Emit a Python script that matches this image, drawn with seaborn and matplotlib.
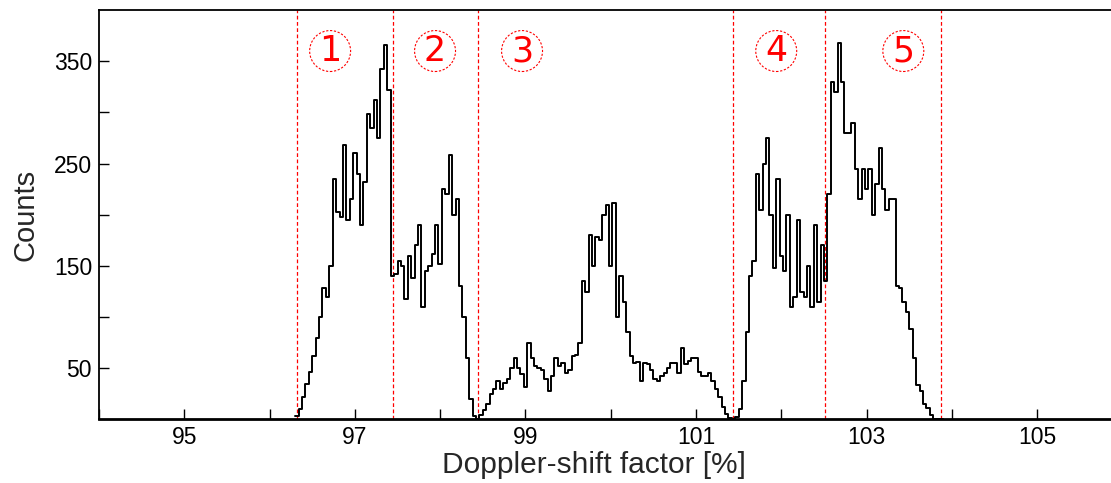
import numpy as np
import pandas as pd
import matplotlib
matplotlib.use("Agg")
import matplotlib.pyplot as plt
import seaborn as sns

# ---- data ----
bin_start = 96.30
bin_width = 0.04
seg1 = [3, 10, 22, 35, 46, 62, 80, 100, 128, 120, 150, 235, 203, 198, 268, 195, 215, 260,
        240, 190, 232, 298, 285, 312, 275, 342, 366, 322, 140]
seg2 = [142, 155, 150, 118, 160, 138, 170, 190, 110, 145, 150, 162, 190, 152, 225, 220, 258,
        200, 215, 130, 100, 60, 20, 3, 0]
seg3 = [4, 9, 15, 25, 30, 38, 30, 36, 40, 50, 60, 50, 44, 32, 75, 60, 52, 50, 48, 40,
        28, 42, 60, 52, 55, 45, 48, 62, 63, 75, 135, 125, 180, 150, 178, 175, 200, 210, 150,
        212, 100, 140, 115, 85, 62, 55, 56, 38, 55, 54, 48, 40, 38, 42, 45, 50, 55, 55, 45,
        70, 54, 57, 60, 60, 46, 42, 42, 45, 38, 30, 22, 12, 5, 1]
seg4 = [0, 2, 10, 38, 85, 140, 155, 240, 205, 250, 275, 200, 148, 235, 160, 145, 200, 110,
        120, 195, 125, 120, 150, 110, 190, 115, 170]
seg5 = [135, 220, 330, 320, 368, 330, 280, 280, 290, 245, 215, 245, 225, 245, 200, 230, 265,
        225, 205, 215, 215, 130, 128, 115, 105, 88, 60, 34, 28, 15, 11, 4, 0, 0, 0]

region_bounds = [96.32, 97.45, 98.44, 101.43, 102.51, 103.87]
region_labels = ["1", "2", "3", "4", "5"]
label_x = [96.71, 97.94, 98.96, 101.94, 103.43]
label_y = 360

x_major = [95, 97, 99, 101, 103, 105]
x_minor = [94, 96, 98, 100, 102, 104, 106]
y_major = [50, 150, 250, 350]
y_minor = [100, 200, 300]

counts = np.array(seg1 + seg2 + seg3 + seg4 + seg5, dtype=float)
n_bins = len(counts)
centers = bin_start + bin_width * (np.arange(n_bins) + 0.5)
df = pd.DataFrame({"doppler": centers, "counts": counts})

# ---- plot ----
sns.set_style("ticks")
plt.rcParams["font.family"] = ["Liberation Sans", "DejaVu Sans"]

fig = plt.figure(figsize=(11.11, 4.83), dpi=100)
ax = fig.add_axes([0.0891, 0.1315, 0.9213, 0.8476])

sns.histplot(data=df, x="doppler", weights="counts", bins=n_bins,
             binrange=(bin_start, bin_start + bin_width * n_bins), element="step",
             fill=False, color="black", linewidth=1.4, ax=ax)

for xb in region_bounds:
    ax.axvline(xb, color="red", linestyle=(0, (3, 2)), linewidth=0.9, zorder=1)

for lx, lab in zip(label_x, region_labels):
    ax.text(lx, label_y, lab, color="red", fontsize=25, family="DejaVu Sans",
            ha="center", va="center",
            bbox=dict(boxstyle="circle,pad=0.1", fc="none", ec="red",
                      linestyle=(0, (2, 1.5)), linewidth=0.8))

ax.set_xlim(94, 106)
ax.set_ylim(0, 400)
ax.set_xticks(x_major)
ax.set_xticks(x_minor, minor=True)
ax.set_yticks(y_major)
ax.set_yticks(y_minor, minor=True)
ax.tick_params(which="both", direction="in", length=7, width=1.0, top=False, right=False,
               colors="black")
ax.tick_params(axis="x", which="major", labelsize=16.5, pad=5)
ax.tick_params(axis="y", which="major", labelsize=16.5, pad=5)

for s in ["left", "bottom", "top"]:
    ax.spines[s].set_linewidth(1.3)
    ax.spines[s].set_color("black")
ax.spines["bottom"].set_linewidth(2.0)

ax.set_xlabel("Doppler-shift factor [%]", fontsize=21.5)
ax.xaxis.set_label_coords(0.484, -0.077)
ax.set_ylabel("Counts", fontsize=21, labelpad=10)

fig.savefig("out.png", dpi=100)
